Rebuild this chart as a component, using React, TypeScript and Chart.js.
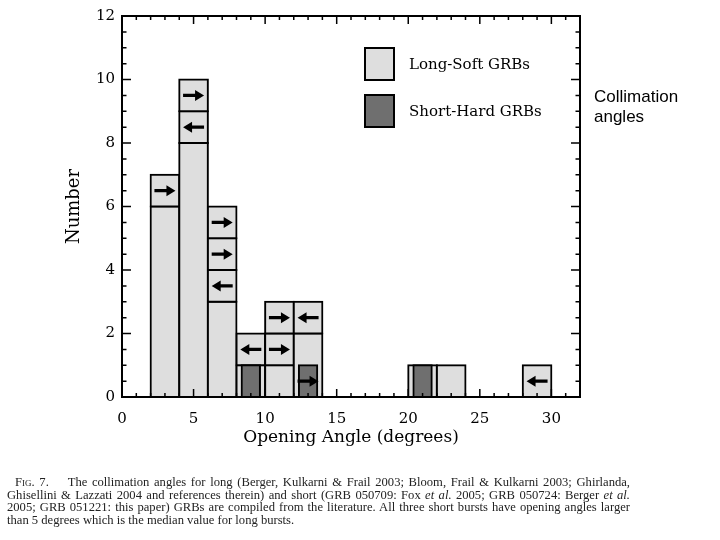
import React, { useEffect, useRef } from "react";
import { Chart, registerables } from "chart.js";

Chart.register(...registerables);

// ---- data ----
const binCenters = [3, 5, 7, 9, 11, 13, 21, 23, 29];
const longCounts = [7, 10, 6, 2, 3, 3, 1, 1, 1];
// limit arrows per bin, listed from the top box downwards
const longLimits: string[][] = [
  ["right"],
  ["right", "left"],
  ["right", "right", "left"],
  ["left"],
  ["right", "right"],
  ["left"],
  [],
  [],
  ["left"],
];
const shortCenters = [9, 13, 21];
const shortCounts = [1, 1, 1];
const shortLimits: string[][] = [[], ["right"], []];

const xRange = [0, 32];
const yRange = [0, 12];
const xTickStep = 5;
const yTickStep = 2;
const xMinorStep = 1;
const yMinorStep = 0.5;

const longLabel = "Long-Soft GRBs";
const shortLabel = "Short-Hard GRBs";
const xTitle = "Opening Angle (degrees)";
const yTitle = "Number";

type Box = { x: number; y: [number, number]; arrow: string | null };

function buildBoxes(centers: number[], counts: number[], limits: string[][]): Box[] {
  const out: Box[] = [];
  centers.forEach((c, i) => {
    const n = counts[i];
    const lim = limits[i];
    const plain = n - lim.length;
    if (plain > 0) out.push({ x: c, y: [0, plain], arrow: null });
    for (let k = lim.length - 1; k >= 0; k--) {
      const lo = n - k - 1;
      out.push({ x: c, y: [lo, lo + 1], arrow: lim[k] });
    }
  });
  return out;
}

const SERIF = '"DejaVu Serif", serif';

const framePlugin = {
  id: "idlFrame",
  afterDatasetsDraw(chart: any) {
    const { ctx, chartArea: a, scales } = chart;
    const xs = scales.x;
    const ys = scales.y;
    ctx.save();
    // arrows
    chart.data.datasets.forEach((ds: any, di: number) => {
      const meta = chart.getDatasetMeta(di);
      meta.data.forEach((el: any, i: number) => {
        const raw = ds.data[i];
        if (!raw || !raw.arrow) return;
        const cx = el.x;
        const cy = (el.y + el.base) / 2;
        const L = 21, head = 9, hh = 5.5, sh = 1.7;
        const dir = raw.arrow === "right" ? 1 : -1;
        const x0 = cx - (dir * L) / 2;
        const x1 = cx + (dir * L) / 2;
        const xh = x1 - dir * head;
        ctx.fillStyle = "#000";
        ctx.beginPath();
        ctx.moveTo(x0, cy - sh);
        ctx.lineTo(xh, cy - sh);
        ctx.lineTo(xh, cy - hh);
        ctx.lineTo(x1, cy);
        ctx.lineTo(xh, cy + hh);
        ctx.lineTo(xh, cy + sh);
        ctx.lineTo(x0, cy + sh);
        ctx.closePath();
        ctx.fill();
      });
    });
    // frame
    ctx.strokeStyle = "#000";
    ctx.lineWidth = 2;
    ctx.strokeRect(a.left, a.top, a.right - a.left, a.bottom - a.top);
    // ticks
    ctx.lineWidth = 1.5;
    ctx.beginPath();
    for (let v = xs.min; v <= xs.max + 1e-9; v += xMinorStep) {
      const px = xs.getPixelForValue(v);
      const len = Math.abs(v % xTickStep) < 1e-9 ? 8 : 4;
      ctx.moveTo(px, a.bottom);
      ctx.lineTo(px, a.bottom - len);
      ctx.moveTo(px, a.top);
      ctx.lineTo(px, a.top + len);
    }
    for (let v = ys.min; v <= ys.max + 1e-9; v += yMinorStep) {
      const py = ys.getPixelForValue(v);
      const len = Math.abs(v % yTickStep) < 1e-9 ? 9 : 4.5;
      ctx.moveTo(a.left, py);
      ctx.lineTo(a.left + len, py);
      ctx.moveTo(a.right, py);
      ctx.lineTo(a.right - len, py);
    }
    ctx.stroke();
    // legend inside plot
    const bx = a.left + 243;
    const rows = [a.top + 32, a.top + 79];
    const bw = 29, bh = 32;
    chart.data.datasets.forEach((ds: any, di: number) => {
      const y = rows[di];
      ctx.fillStyle = ds.backgroundColor;
      ctx.fillRect(bx, y, bw, bh);
      ctx.lineWidth = 2;
      ctx.strokeStyle = "#000";
      ctx.strokeRect(bx, y, bw, bh);
      ctx.fillStyle = "#000";
      ctx.font = "15px " + SERIF;
      ctx.textBaseline = "middle";
      ctx.textAlign = "left";
      ctx.fillText(ds.label, bx + 44, y + bh / 2 + 1);
    });
    ctx.restore();
  },
};

export default function App() {
  const ref = useRef<HTMLCanvasElement | null>(null);
  useEffect(() => {
    if (!ref.current) return;
    const longBoxes = buildBoxes(binCenters, longCounts, longLimits);
    const shortBoxes = buildBoxes(shortCenters, shortCounts, shortLimits);
    const chart = new Chart(ref.current, {
      type: "bar",
      data: {
        datasets: [
          {
            label: longLabel,
            data: longBoxes as any,
            backgroundColor: "#dedede",
            borderColor: "#000",
            borderWidth: 2,
            borderSkipped: false,
            inflateAmount: 1,
            barPercentage: 1,
            categoryPercentage: 1,
            grouped: false,
            order: 1,
          } as any,
          {
            label: shortLabel,
            data: shortBoxes as any,
            backgroundColor: "#6f6f6f",
            borderColor: "#000",
            borderWidth: 2,
            borderSkipped: false,
            inflateAmount: 1,
            barPercentage: 0.64,
            categoryPercentage: 1,
            grouped: false,
            order: 0,
          } as any,
        ],
      },
      options: {
        responsive: false,
        animation: false,
        layout: { padding: { left: 0, top: 13, right: 140, bottom: 0 } },
        plugins: { legend: { display: false }, tooltip: { enabled: false } },
        scales: {
          x: {
            type: "linear",
            min: xRange[0],
            max: xRange[1],
            offset: false,
            grid: { display: false, drawTicks: false },
            border: { display: false },
            ticks: {
              stepSize: xTickStep,
              includeBounds: false,
              padding: 13,
              color: "#000",
              font: { family: SERIF, size: 15 },
              maxRotation: 0,
            },
            title: {
              display: true,
              text: xTitle,
              color: "#000",
              font: { family: SERIF, size: 17 },
              padding: { top: 0, bottom: 92 },
            },
            afterFit: (s: any) => {
              s.height = 143;
            },
          },
          y: {
            type: "linear",
            min: yRange[0],
            max: yRange[1],
            grid: { display: false, drawTicks: false },
            border: { display: false },
            ticks: {
              stepSize: yTickStep,
              includeBounds: false,
              padding: 7,
              color: "#000",
              font: { family: SERIF, size: 15 },
            },
            title: {
              display: true,
              text: yTitle,
              color: "#000",
              font: { family: SERIF, size: 18 },
              padding: { top: 64, bottom: 0 },
            },
            afterFit: (s: any) => {
              s.width = 122;
            },
          },
        },
      } as any,
      plugins: [framePlugin],
    });
    return () => chart.destroy();
  }, []);

  const lineStyle: React.CSSProperties = {
    whiteSpace: "nowrap",
    textAlign: "justify",
    textAlignLast: "justify" as any,
    height: "12.5px",
  };

  return (
    <div style={{ position: "absolute", left: 0, top: 0, width: 720, height: 540, background: "#fff", overflow: "hidden" }}>
      <canvas ref={ref} width={720} height={540} style={{ position: "absolute", left: 0, top: 0, display: "block" }} />
      <div
        style={{
          position: "absolute",
          left: 594,
          top: 87,
          fontFamily: '"Liberation Sans", sans-serif',
          fontSize: 17,
          lineHeight: "20px",
          color: "#000",
        }}
      >
        Collimation
        <br />
        angles
      </div>
      <div
        style={{
          position: "absolute",
          left: 7,
          top: 476,
          width: 623,
          fontFamily: '"Liberation Serif", serif',
          fontSize: 12.6,
          lineHeight: "12.5px",
          color: "#222",
        }}
      >
        <div style={{ ...lineStyle, paddingLeft: 8 }}>
          <span style={{ fontVariant: "small-caps" }}>Fig.</span> 7.{"\u2003\u2002"}The collimation angles for long (Berger, Kulkarni &amp; Frail 2003; Bloom, Frail &amp; Kulkarni 2003; Ghirlanda,
        </div>
        <div style={lineStyle}>
          Ghisellini &amp; Lazzati 2004 and references therein) and short (GRB 050709: Fox <i>et al.</i> 2005; GRB 050724: Berger <i>et al.</i>
        </div>
        <div style={lineStyle}>
          2005; GRB 051221: this paper) GRBs are compiled from the literature. All three short bursts have opening angles larger
        </div>
        <div style={{ whiteSpace: "nowrap", height: "12.5px" }}>than 5 degrees which is the median value for long bursts.</div>
      </div>
    </div>
  );
}
